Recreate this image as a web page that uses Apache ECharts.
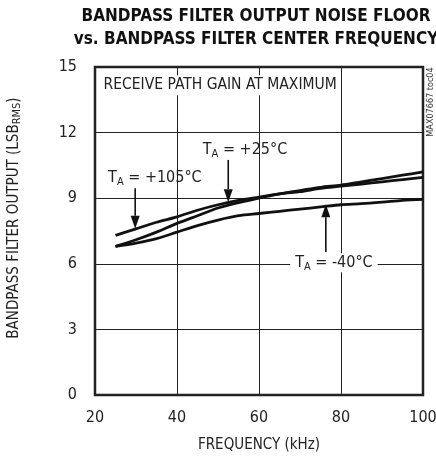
<!DOCTYPE html>
<html>
<head>
<meta charset="utf-8">
<script src="https://cdn.jsdelivr.net/npm/echarts@6/dist/echarts.min.js"></script>
<style>
  html, body { margin: 0; padding: 0; background: #fff; }
  #main { width: 436px; height: 460px; }
</style>
</head>
<body>
<div id="main"></div>
<script>
// frequency points (kHz)
var freqs = [25, 30, 35, 40, 45, 50, 55, 60, 65, 70, 75, 80, 85, 90, 95, 100];
// noise floor, LSB RMS
var noise105 = [7.3, 7.6, 7.9, 8.15, 8.45, 8.7, 8.9, 9.05, 9.2, 9.35, 9.5, 9.6, 9.75, 9.9, 10.05, 10.2];
var noise25  = [6.8, 7.1, 7.45, 7.85, 8.2, 8.55, 8.8, 9.0, 9.2, 9.3, 9.45, 9.55, 9.65, 9.75, 9.85, 9.95];
var noiseM40 = [6.8, 6.95, 7.15, 7.45, 7.75, 8.0, 8.2, 8.3, 8.4, 8.5, 8.6, 8.7, 8.75, 8.82, 8.9, 8.95];
var xTicks = [20, 40, 60, 80, 100];
var yTicks = [0, 3, 6, 9, 12, 15];

var FONT = "'Liberation Sans Narrow', 'DejaVu Sans Condensed', Arial, sans-serif";

function pairs(ys) {
  var out = [];
  for (var i = 0; i < freqs.length; i++) out.push([freqs[i], ys[i]]);
  return out;
}

function curve(name, ys) {
  return {
    name: name,
    type: 'line',
    data: pairs(ys),
    smooth: 0.3,
    symbol: 'none',
    lineStyle: { color: '#111', width: 2.8 },
    z: 3
  };
}

var chart = echarts.init(document.getElementById('main'), null, { renderer: 'canvas' });

var option = {
  backgroundColor: '#fff',
  animation: false,
  title: {
    text: 'BANDPASS FILTER OUTPUT NOISE FLOOR\nvs. BANDPASS FILTER CENTER FREQUENCY',
    left: 251,
    top: 0,
    textAlign: 'center',
    textStyle: { fontFamily: FONT, fontSize: 17, fontWeight: 'bold', color: '#111', lineHeight: 23 }
  },
  grid: {
    left: 95, right: 13, top: 67, bottom: 65,
    outerBoundsMode: 'none', containLabel: false,
    show: true, borderColor: '#222', borderWidth: 2.5, backgroundColor: 'transparent'
  },
  xAxis: {
    type: 'value',
    min: xTicks[0], max: xTicks[xTicks.length - 1], interval: 20,
    name: 'FREQUENCY (kHz)',
    nameLocation: 'middle',
    nameGap: 43,
    nameTextStyle: { fontFamily: FONT, fontSize: 15, color: '#222' },
    axisLine: { show: false },
    axisTick: { show: false },
    axisLabel: { fontFamily: FONT, fontSize: 16, color: '#222', margin: 15 },
    splitLine: { show: true, lineStyle: { color: '#222', width: 1 } }
  },
  yAxis: {
    type: 'value',
    min: yTicks[0], max: yTicks[yTicks.length - 1], interval: 3,
    name: '{a|BANDPASS FILTER OUTPUT (LSB}{s|RMS}{a|)}',
    nameLocation: 'middle',
    nameGap: 72,
    nameRotate: 90,
    nameTextStyle: {
      padding: [0, 0, 0, 26],
      rich: {
        a: { fontFamily: FONT, fontSize: 15, color: '#222' },
        s: { fontFamily: FONT, fontSize: 11, color: '#222', padding: [7, 0, 0, 0] }
      }
    },
    axisLine: { show: false },
    axisTick: { show: false },
    axisLabel: { fontFamily: FONT, fontSize: 16, color: '#222', margin: 18 },
    splitLine: { show: true, lineStyle: { color: '#222', width: 1 } }
  },
  series: [
    curve('+105', noise105),
    curve('+25', noise25),
    curve('-40', noiseM40)
  ]
};
chart.setOption(option);

// annotations placed in data coordinates
var richT = {
  t: { fontFamily: FONT, fontSize: 16, color: '#222' },
  s: { fontFamily: FONT, fontSize: 11, color: '#222', padding: [8, 0, 0, 0] }
};
function px(x, y) { return chart.convertToPixel({ gridIndex: 0 }, [x, y]); }

function label(text, x, y, bg) {
  var p = px(x, y);
  return {
    type: 'text', x: p[0], y: p[1], z: 10,
    style: {
      text: text, rich: richT, fill: '#222',
      verticalAlign: 'middle', align: 'left',
      backgroundColor: bg ? '#fff' : null, padding: bg ? [0, 5, 0, 5] : 0
    }
  };
}
function arrow(x, y0, y1) {
  var a = px(x, y0), b = px(x, y1);
  var dir = b[1] > a[1] ? 1 : -1;
  var tipY = b[1], baseY = b[1] - dir * 13;
  return [
    { type: 'line', z: 10, shape: { x1: a[0], y1: a[1], x2: b[0], y2: baseY }, style: { stroke: '#111', lineWidth: 1.6 } },
    { type: 'polygon', z: 10, shape: { points: [[b[0], tipY], [b[0] - 4.5, baseY], [b[0] + 4.5, baseY]] }, style: { fill: '#111' } }
  ];
}

var pGain = px(21.6, 14.17);
var graphics = [
  {
    type: 'text', x: pGain[0], y: pGain[1], z: 10,
    style: { text: 'RECEIVE PATH GAIN AT MAXIMUM', fontFamily: FONT, fontSize: 15.5, fill: '#222',
      verticalAlign: 'middle', backgroundColor: '#fff', padding: [2, 2, 2, 2] }
  },
  label('{t|T}{s|A}{t| = +25°C}', 46.3, 11.2, false),
  label('{t|T}{s|A}{t| = +105°C}', 23.2, 9.92, false),
  label('{t|T}{s|A}{t| = -40°C}', 67.6, 6.05, true),
  {
    type: 'text', x: 431, y: 102, rotation: Math.PI / 2, z: 10,
    style: { text: 'MAX07667 toc04', fontFamily: FONT, fontSize: 9, fill: '#333', align: 'center', verticalAlign: 'middle' }
  }
];
graphics = graphics.concat(arrow(52.5, 10.75, 8.82));
graphics = graphics.concat(arrow(29.8, 9.45, 7.6));
graphics = graphics.concat(arrow(76.3, 6.54, 8.72));

chart.setOption({ graphic: graphics });
</script>
</body>
</html>
